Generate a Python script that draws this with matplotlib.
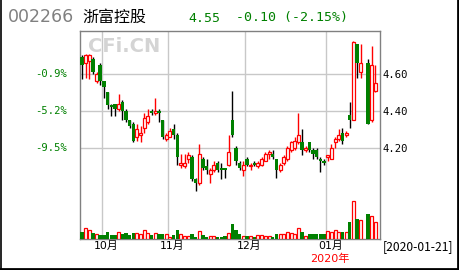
import matplotlib
matplotlib.use('Agg')
import matplotlib.pyplot as plt
from matplotlib.lines import Line2D
import numpy as np

# ---- data: one slot per trading day (0 = 2019-09-23 ... 80 = 2020-01-21), nan = no trade
opens = [4.69, 4.66, 4.67, 4.68, 4.56, 4.65, 4.56, 4.50, 4.43, 4.44,
         4.41, 4.45, 4.40, 4.35, 4.33, 4.26, 4.27, 4.31, 4.34, 4.40,
         4.39, 4.40, 4.35, 4.25, 4.26, 4.30, 4.27, 4.11, 4.10, 4.14,
         4.15, 4.03, 4.01, 4.14, 4.10, 4.06, 4.08, 4.12, 4.09, 4.09,
         4.11, 4.35, 4.20, 4.12, 4.08, 4.14, 4.10, 4.12, 4.10, 4.11,
         4.13, 4.17, 4.17, 4.14, 4.08, 4.12, 4.14, 4.19, 4.20, 4.23,
         4.23, 4.19, 4.23, 4.19, 4.19, 4.14, 4.13, 4.15, 4.14, 4.23,
         4.25, 4.28, 4.27, 4.38, 4.35, 4.76, 4.61, np.nan, 4.66, 4.35,
         4.51]
highs = [4.70, 4.71, 4.71, 4.69, 4.61, 4.66, 4.56, 4.50, 4.44, 4.44,
         4.49, 4.46, 4.41, 4.35, 4.34, 4.33, 4.32, 4.39, 4.41, 4.41,
         4.47, 4.41, 4.35, 4.28, 4.31, 4.33, 4.28, 4.17, 4.17, 4.18,
         4.16, 4.04, 4.22, 4.15, 4.14, 4.09, 4.13, 4.13, 4.12, 4.09,
         4.27, 4.51, 4.21, 4.13, 4.13, 4.15, 4.12, 4.13, 4.13, 4.15,
         4.18, 4.19, 4.19, 4.14, 4.12, 4.16, 4.21, 4.24, 4.26, 4.39,
         4.30, 4.21, 4.23, 4.20, 4.20, 4.15, 4.14, 4.16, 4.22, 4.26,
         4.30, 4.31, 4.29, 4.45, 4.78, 4.76, 4.76, np.nan, 4.68, 4.75,
         4.65]
lows = [4.57, 4.58, 4.57, 4.60, 4.55, 4.54, 4.47, 4.41, 4.37, 4.37,
        4.40, 4.35, 4.34, 4.31, 4.23, 4.24, 4.23, 4.28, 4.33, 4.38,
        4.38, 4.34, 4.25, 4.24, 4.26, 4.25, 4.11, 4.09, 4.09, 4.12,
        4.02, 3.97, 4.00, 4.08, 4.06, 4.01, 4.07, 4.07, 4.03, 4.04,
        4.10, 4.26, 4.11, 4.08, 4.05, 4.10, 4.08, 4.10, 4.09, 4.10,
        4.13, 4.14, 4.14, 4.04, 4.07, 4.11, 4.13, 4.18, 4.19, 4.22,
        4.16, 4.18, 4.18, 4.14, 4.14, 4.07, 4.11, 4.13, 4.14, 4.20,
        4.24, 4.22, 4.26, 4.31, 4.35, 4.58, 4.58, np.nan, 4.33, 4.34,
        4.50]
closes = [4.65, 4.70, 4.70, 4.61, 4.60, 4.56, 4.53, 4.43, 4.42, 4.41,
          4.44, 4.40, 4.35, 4.32, 4.24, 4.30, 4.28, 4.36, 4.37, 4.39,
          4.40, 4.39, 4.26, 4.27, 4.29, 4.27, 4.15, 4.12, 4.12, 4.16,
          4.03, 4.01, 4.17, 4.09, 4.08, 4.08, 4.11, 4.08, 4.08, 4.08,
          4.18, 4.27, 4.13, 4.09, 4.11, 4.11, 4.11, 4.11, 4.12, 4.14,
          4.17, 4.18, 4.15, 4.08, 4.11, 4.15, 4.20, 4.23, 4.24, 4.27,
          4.19, 4.20, 4.19, 4.17, 4.15, 4.13, 4.12, 4.16, 4.20, 4.25,
          4.27, 4.24, 4.28, 4.35, 4.77, 4.66, 4.66, np.nan, 4.33, 4.65,
          4.55]
volumes = [7.0, 11.0, 9.3, 6.0, 5.0, 4.0, 4.0, 7.0, 4.0, 4.0,
           7.0, 5.3, 6.0, 4.0, 6.0, 6.0, 5.0, 8.7, 6.0, 4.0,
           6.0, 5.0, 5.0, 5.0, 2.3, 4.0, 9.3, 5.0, 2.7, 2.7,
           5.3, 2.5, 8.0, 4.0, 2.5, 3.0, 3.0, 2.0, 2.0, 2.7,
           6.0, 15.3, 9.3, 5.3, 3.0, 3.0, 3.0, 2.0, 4.0, 4.0,
           3.0, 3.0, 2.0, 4.7, 5.3, 5.3, 6.7, 6.0, 5.3, 11.0,
           6.7, 2.7, 4.7, 4.7, 5.3, 5.3, 4.7, 8.0, 7.0, 9.0,
           7.0, 7.0, 7.0, 17.3, 38.0, 20.3, 19.0, np.nan, 25.3, 23.3,
           17.3]

month_labels = ['10月', '11月', '12月', '01月']
month_first_idx = [6, 24, 45, 67]
price_ticks = [4.20, 4.40, 4.60]
price_tick_labels = ['4.20', '4.40', '4.60']
pct_labels = ['-9.5%', '-5.2%', '-0.9%']

code = '002266'
name = '浙富控股'
last_price = '4.55'
change_text = '-0.10 (-2.15%)'
year_label = '2020年'
date_label = '[2020-01-21]'

RED = '#ff0000'
GREEN = '#008000'
GRID = '#c8c8c8'
LBL_FONT = ['DejaVu Sans', 'Noto Sans CJK SC']

W, H = 460, 270
fig = plt.figure(figsize=(W / 100, H / 100), dpi=100)
fig.patch.set_facecolor('white')

L, R_, T, B = 80, 380, 31, 239
ax = fig.add_axes([L / W, 1 - B / H, (R_ - L) / W, (B - T) / H])
vol_top = 200
axv = fig.add_axes([L / W, 1 - B / H, (R_ - L) / W, (B - vol_top) / H], sharex=ax)
axv.patch.set_visible(False)
axv.axis('off')

n = len(closes)
idx = np.arange(n)
o = np.array(opens); h = np.array(highs); lo = np.array(lows); c = np.array(closes)
v = np.array(volumes)

ax.set_xlim(-0.5, -0.5 + (R_ - L) / 3.67)
ax.set_ylim(3.708, 4.832)
axv.set_ylim(0, 39)

# grid
for m in month_first_idx:
    ax.axvline(m - 0.5, color=GRID, lw=1.0, zorder=0)
for p in price_ticks:
    ax.axhline(p, color=GRID, lw=1.0, zorder=0)

bw = 0.82
up = c >= o
valid = ~np.isnan(c)
for i in idx[valid]:
    top = max(o[i], c[i]); bot = min(o[i], c[i])
    hgt = max(top - bot, 0.003)
    if up[i]:
        ax.vlines(i, top, h[i], color=RED, lw=1.0, zorder=2)
        ax.vlines(i, lo[i], bot, color=RED, lw=1.0, zorder=2)
        ax.bar(i, hgt, bottom=bot, width=bw, facecolor='white', edgecolor=RED,
               linewidth=0.9, zorder=3)
        axv.bar(i, v[i], width=bw, facecolor='white', edgecolor=RED, linewidth=0.9, zorder=3)
    else:
        ax.vlines(i, lo[i], h[i], color='black', lw=1.0, zorder=2)
        ax.bar(i, hgt, bottom=bot, width=bw + 0.1, facecolor=GREEN, edgecolor=GREEN,
               linewidth=0.0, zorder=3)
        axv.bar(i, v[i], width=bw + 0.1, facecolor=GREEN, edgecolor=GREEN, linewidth=0, zorder=3)

# frame
for s in ax.spines.values():
    s.set_color('#808080')
    s.set_linewidth(1.0)

# right price labels
ax.yaxis.tick_right()
ax.set_yticks(price_ticks)
ax.set_yticklabels(price_tick_labels, family='DejaVu Sans Mono', fontsize=7.6, color='black')
ax.tick_params(axis='y', length=0, pad=2)

# left percentage labels
for p, lab in zip(price_ticks, pct_labels):
    ax.text(-0.043, p, lab, transform=ax.get_yaxis_transform(), ha='right', va='center',
            family='DejaVu Sans Mono', fontsize=7.6, color=GREEN)

# month labels
ax.set_xticks([m + 0.7 for m in month_first_idx])
ax.set_xticklabels(month_labels, family=LBL_FONT, fontsize=7.8, color='black')
ax.tick_params(axis='x', length=0, pad=1.5)
axv.tick_params(axis='x', length=0)

ax.text(month_first_idx[-1] + 0.7, -0.094, year_label, transform=ax.get_xaxis_transform(),
        ha='center', va='center', family=LBL_FONT, fontsize=8.0, color=RED)
ax.text(1.01, -0.036, date_label, transform=ax.transAxes, ha='left', va='center',
        family=['Noto Sans CJK SC', 'DejaVu Sans'], fontsize=8.7, color='black')

# header
fig.text(8 / W, 1 - 17 / H, code, ha='left', va='center', fontsize=12.5, color='#808080',
         family='DejaVu Sans')
fig.text(82 / W, 1 - 17 / H, name, ha='left', va='center', fontsize=11.5, color='black',
         family=['Noto Sans CJK SC', 'DejaVu Sans'])
fig.text(188 / W, 1 - 18 / H, last_price, ha='left', va='center', fontsize=9.5, color=GREEN,
         family='DejaVu Sans Mono')
fig.text(236 / W, 1 - 18 / H, change_text, ha='left', va='center', fontsize=9.5, color=GREEN,
         family='DejaVu Sans Mono')

# watermark
fig.text(88 / W, 1 - 46 / H, 'CFi.CN', ha='left', va='center', fontsize=14, fontweight='bold',
         color='#d4d4d4', family='DejaVu Sans', zorder=0)

# outer border (left, right, bottom)
fig.add_artist(Line2D([0.5 / W, 0.5 / W], [0, 1], color='black', lw=1.2, transform=fig.transFigure))
fig.add_artist(Line2D([458.5 / W, 458.5 / W], [0, 1], color='black', lw=2.0, transform=fig.transFigure))
fig.add_artist(Line2D([0, 1], [1 - 268.8 / H, 1 - 268.8 / H], color='black', lw=2.0, transform=fig.transFigure))

fig.savefig('out.png', dpi=100, facecolor='white')
